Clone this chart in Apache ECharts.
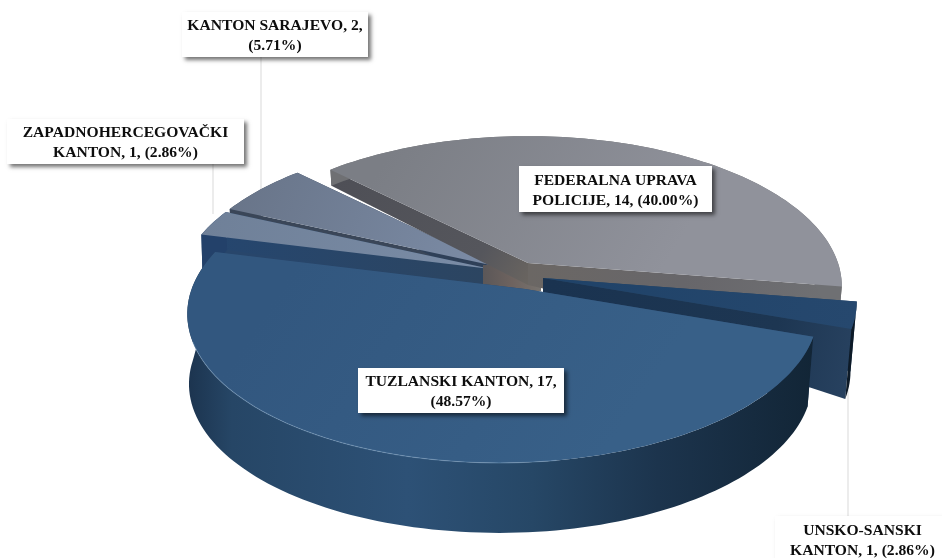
<!DOCTYPE html>
<html>
<head>
<meta charset="utf-8">
<style>html,body{margin:0;padding:0;background:#fff}#chart{width:942px;height:558px}</style>
<script src="https://cdn.jsdelivr.net/npm/echarts@6/dist/echarts.min.js"></script>
</head>
<body>
<div id="chart"></div>
<script>
// data, in clockwise order starting from the far-left cut of the largest slice
const categories = ['FEDERALNA UPRAVA POLICIJE', 'UNSKO-SANSKI KANTON', 'TUZLANSKI KANTON', 'ZAPADNOHERCEGOVAČKI KANTON', 'KANTON SARAJEVO'];
const values = [14, 1, 17, 1, 2];
const percents = ['40.00%', '2.86%', '48.57%', '2.86%', '5.71%'];
const labelBreaks = [
  'FEDERALNA UPRAVA\nPOLICIJE, 14, (40.00%)',
  'UNSKO-SANSKI\nKANTON, 1, (2.86%)',
  'TUZLANSKI KANTON, 17,\n(48.57%)',
  'ZAPADNOHERCEGOVAČKI\nKANTON, 1, (2.86%)',
  'KANTON SARAJEVO, 2,\n(5.71%)'
];

// pseudo-3D layout
const startAngle = 135, RX = 310, RY = 146.5, K = 0.155, HC = 22, HR = 70;
const centers = [[528, 263], [543, 278], [525, 289], [491, 269], [495, 266]];
const skews = [0, 0, 0.07, 0, 0];
const drawOrder = [4, 3, 0, 1, 2];
const labelBoxes = [[519, 166, 193, 46], [775, 516, 175, 46], [358, 368, 206, 45], [7, 119, 237, 45], [182, 12, 186, 45]];
const leaders = [null, [848, 390, 848, 516], null, [213, 164, 213, 214], [261, 57, 261, 190]];

const FONT = '"Liberation Serif"';
const G = echarts.graphic;
const total = values.reduce((a, b) => a + b, 0);
const angles = [];
(function () {
  let a = startAngle;
  values.forEach(v => { const sweep = v / total * 360; angles.push([a, a - sweep]); a -= sweep; });
})();
const rad = d => d * Math.PI / 180;
function topPt(c, th, r, sk) {
  const t = rad(th), w = 1 + K * r * Math.sin(t) + (sk || 0) * r * Math.cos(t);
  return [c[0] + RX * r * Math.cos(t) / w, c[1] - RY * r * Math.sin(t) / w];
}
function botPt(c, th, r, sk) {
  const p = topPt(c, th, r, sk), s = Math.sin(rad(th)), co = Math.cos(rad(th));
  const hr = s <= 0 ? HR : Math.max(16, HR - 78 * s);
  const h = HC + (hr - HC) * r;
  const shrink = co > 0 ? 0.98 : 0.995;
  return [c[0] + (p[0] - c[0]) * shrink, p[1] + h];
}
function arc(fn, c, a0, a1, sk) {
  const out = [], n = Math.max(4, Math.ceil(Math.abs(a1 - a0) / 1.5));
  for (let i = 0; i <= n; i++) out.push(fn(c, a0 + (a1 - a0) * i / n, 1, sk));
  return out;
}
const lin = (x0, y0, x1, y1, stops) => new G.LinearGradient(x0, y0, x1, y1,
  stops.map(s => ({ offset: s[0], color: s[1] })), true);

const styles = [
  { top: lin(400, 136, 650, 290, [[0, '#7b7e85'], [1, '#90929b']]),
    cutA: lin(333, 170, 528, 285, [[0, '#4e4f56'], [0.75, '#55565c'], [1, '#6a6560']]),
    cutB: lin(528, 270, 840, 300, [[0, '#6b6764'], [0.5, '#67666a'], [1, '#707174']]),
    rim: '#6f7073', hi: 'rgba(255,255,255,0)' },
  { top: lin(545, 280, 855, 320, [[0, '#1f4268'], [1, '#26486e']]),
    cutA: '#23415f',
    cutB: lin(545, 300, 850, 360, [[0, '#1a3350'], [0.75, '#1d3652'], [1, '#27415f']]),
    rim: '#0d1a27', hi: 'rgba(255,255,255,0)' },
  { top: lin(300, 260, 600, 460, [[0, '#32577f'], [1, '#386088']]),
    cutA: '#29466a', cutB: '#29466a',
    rim: lin(188, 0, 815, 0, [[0, '#1c344f'], [0.07, '#264666'], [0.35, '#2d5176'], [0.55, '#264766'], [0.75, '#1c344d'], [1, '#122536']]),
    hi: 'rgba(150,185,220,0.3)' },
  { top: lin(200, 235, 480, 270, [[0, '#6f8098'], [1, '#7a8ca6']]),
    cutA: '#28466b', cutB: lin(200, 250, 483, 280, [[0, '#25466f'], [1, '#2c4561']]),
    rim: '#23416a', hi: 'rgba(255,255,255,0)' },
  { top: lin(235, 170, 480, 265, [[0, '#687488'], [1, '#7b8ba5']]),
    cutA: '#3a4658', cutB: '#2f4058',
    rim: '#3a4658', hi: 'rgba(255,255,255,0)' }
];

function sliceChildren(i) {
  const c = centers[i], a = angles[i], st = styles[i], sk = skews[i];
  const ch = [];
  const apexT = c, apexB = [c[0], c[1] + HC];
  const poly = (pts, fill) => ch.push({ type: 'polygon', shape: { points: pts }, style: { fill: fill, stroke: null } });
  if (i === 0) {
    // central core of the exploded largest slice
    poly([[c[0] - 45, c[1] + 2], [c[0] + 13, c[1] + 2], [c[0] + 13, c[1] + 28], [c[0] - 45, c[1] + 28]],
      lin(c[0] - 45, 0, c[0] + 13, 0, [[0, '#5b5758'], [0.5, '#6e635f'], [1, '#77736f']]));
  }
  // cut faces
  poly([apexT, topPt(c, a[0], 1, sk), botPt(c, a[0], 1, sk), apexB], st.cutA);
  poly([apexT, topPt(c, a[1], 1, sk), botPt(c, a[1], 1, sk), apexB], st.cutB);
  // outer rim wall
  const rt = arc(topPt, c, a[0], a[1], sk), rb = arc(botPt, c, a[0], a[1], sk);
  poly(rt.concat(rb.slice().reverse()), st.rim);
  // top face
  poly([apexT].concat(rt), st.top);
  const front = rt.filter((p, k) => {
    const th = rad(a[0] + (a[1] - a[0]) * k / (rt.length - 1));
    return Math.sin(th) < -0.3 && Math.cos(th) < 0.1;
  });
  if (front.length > 1) {
    ch.push({ type: 'polyline', shape: { points: front }, style: { stroke: st.hi, lineWidth: 1.2, fill: null } });
  }
  return ch;
}

function renderSlice(params, api) {
  return { type: 'group', children: sliceChildren(api.value(0)) };
}
function renderLabel(params, api) {
  const i = api.value(0), b = labelBoxes[i], ch = [];
  if (leaders[i]) {
    const l = leaders[i];
    ch.push({ type: 'line', shape: { x1: l[0], y1: l[1], x2: l[2], y2: l[3] }, style: { stroke: '#d9d9d9', lineWidth: 1 } });
  }
  ch.push({ type: 'rect', shape: { x: b[0], y: b[1], width: b[2], height: b[3] },
    style: { fill: '#fff', shadowBlur: 4, shadowOffsetX: 3, shadowOffsetY: 3, shadowColor: 'rgba(0,0,0,0.55)' } });
  ch.push({ type: 'text', style: {
    x: b[0] + b[2] / 2, y: b[1] + b[3] / 2 + 1.5, text: labelBreaks[i], align: 'center', verticalAlign: 'middle',
    font: 'bold 15.6px ' + FONT, lineHeight: 20, fill: '#0d0d0d' } });
  return { type: 'group', children: ch };
}

const chart = echarts.init(document.getElementById('chart'), null, { renderer: 'canvas' });
chart.setOption({
  animation: false,
  backgroundColor: '#ffffff',
  series: [
    { type: 'custom', coordinateSystem: 'none', silent: true, z: 2, renderItem: renderSlice,
      data: drawOrder.map(i => [i, values[i], categories[i], percents[i]]) },
    { type: 'custom', coordinateSystem: 'none', silent: true, z: 1, renderItem: renderLabel,
      data: [1, 3, 4].map(i => [i]) },
    { type: 'custom', coordinateSystem: 'none', silent: true, z: 3, renderItem: renderLabel,
      data: [0, 2].map(i => [i]) }
  ]
});
</script>
</body>
</html>
